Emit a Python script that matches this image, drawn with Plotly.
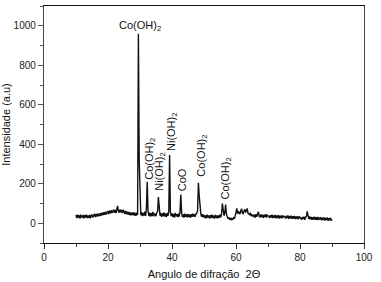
import numpy as np
import plotly.graph_objects as go

# 2-theta grid (degrees), 0.25 deg step from 10 to 90
theta_start = 10.0
theta_step = 0.25

intensity = [
    # 10.00 - 14.75
    42, 26, 44, 29, 40, 24, 43, 30, 27, 42, 25, 41, 29, 44, 26, 40, 28, 42, 25, 39,
    # 15.00 - 19.75
    44, 29, 41, 48, 31, 46, 34, 50, 35, 48, 37, 52, 39, 54, 41, 56, 43, 59, 45, 57,
    # 20.00 - 24.75
    62, 47, 64, 50, 66, 52, 63, 69, 53, 67, 51, 72, 88, 60, 54, 70, 56, 67, 52, 65,
    # 25.00 - 29.75
    61, 48, 63, 46, 59, 44, 57, 42, 55, 40, 53, 41, 56, 39, 52, 38, 54, 42, 960, 320,
    # 30.00 - 34.75
    66, 41, 56, 36, 52, 39, 59, 37, 72, 210, 64, 38, 54, 34, 51, 37, 57, 35, 50, 40,
    # 35.00 - 39.75
    36, 54, 60, 133, 59, 38, 52, 33, 49, 36, 55, 34, 48, 32, 53, 37, 62, 345, 56, 36,
    # 40.00 - 44.75
    50, 33, 47, 29, 52, 35, 46, 31, 48, 34, 57, 145, 54, 32, 45, 29, 49, 33, 44, 30,
    # 45.00 - 49.75
    47, 31, 43, 28, 46, 32, 48, 34, 45, 33, 49, 52, 64, 205, 140, 72, 49, 32, 46, 30,
    # 50.00 - 54.75
    42, 27, 40, 25, 44, 29, 39, 24, 41, 28, 43, 26, 38, 24, 42, 27, 40, 25, 39, 28,
    # 55.00 - 59.75
    44, 30, 50, 100, 57, 38, 52, 95, 47, 26, 23, 30, 18, 26, 16, 24, 20, 28, 23, 37,
    # 60.00 - 64.75
    50, 75, 48, 62, 51, 46, 64, 74, 52, 48, 62, 70, 54, 65, 75, 50, 48, 41, 54, 36,
    # 65.00 - 69.75
    42, 40, 31, 44, 29, 46, 33, 47, 58, 36, 30, 45, 32, 43, 28, 42, 31, 46, 29, 41,
    # 70.00 - 74.75
    38, 35, 27, 41, 29, 44, 26, 40, 28, 42, 25, 39, 27, 41, 24, 38, 26, 40, 25, 37,
    # 75.00 - 79.75
    35, 32, 24, 38, 26, 39, 23, 37, 25, 38, 22, 36, 24, 37, 21, 35, 23, 34, 20, 33,
    # 80.00 - 84.75
    30, 26, 19, 32, 21, 33, 18, 31, 35, 60, 38, 22, 34, 20, 32, 18, 31, 19, 33, 17,
    # 85.00 - 89.75
    30, 18, 32, 16, 29, 19, 31, 15, 28, 17, 30, 14, 27, 16, 29, 13, 26, 15, 28, 14,
    # 90.00
    20,
]
two_theta = np.round(theta_start + theta_step * np.arange(len(intensity)), 2)

# Peak labels: (text, x position in 2-theta, y position in a.u., angle)
label_texts = ["Co(OH)<sub>2</sub>", "Co(OH)<sub>2</sub>", "Ni(OH)<sub>2</sub>",
               "Ni(OH)<sub>2</sub>", "CoO", "Co(OH)<sub>2</sub>", "Co(OH)<sub>2</sub>"]
label_x = [30.0, 33.1, 36.4, 40.0, 43.4, 49.1, 56.9]
label_y = [1000, 326, 263, 462, 222, 343, 227]
label_angle = [0, -90, -90, -90, -90, -90, -90]

FONT = "Liberation Sans, Arial, sans-serif"

fig = go.Figure()
fig.add_trace(go.Scatter(
    x=two_theta, y=intensity, mode="lines",
    line=dict(color="#111111", width=1.4),
    showlegend=False, hoverinfo="skip",
))

for t, lx, ly, a in zip(label_texts, label_x, label_y, label_angle):
    fig.add_annotation(x=lx, y=ly, xref="x", yref="y", text=t, showarrow=False,
                       textangle=a, xanchor="center", yanchor="middle",
                       font=dict(family=FONT, size=11, color="#111111"))

fig.update_layout(
    width=381, height=282,
    margin=dict(l=44, r=17, t=6, b=39, autoexpand=False),
    paper_bgcolor="white", plot_bgcolor="white",
    font=dict(family=FONT, size=10, color="#222222"),
)
fig.update_xaxes(
    range=[0, 100], dtick=20, tick0=0, automargin=False,
    ticks="outside", ticklen=5, tickwidth=1, tickcolor="#333333",
    minor=dict(dtick=10, tick0=0, ticks="outside", ticklen=3, tickcolor="#333333"),
    showline=True, linecolor="#111111", linewidth=1.3, mirror=True,
    showgrid=False, zeroline=False,
    tickfont=dict(size=10, color="#222222"),
    title=dict(text="Angulo de difração  2Θ", font=dict(size=11, color="#111111"), standoff=8),
)
fig.update_yaxes(
    range=[-100, 1100], dtick=200, tick0=0, automargin=False,
    ticks="outside", ticklen=5, tickwidth=1, tickcolor="#555555",
    minor=dict(dtick=100, tick0=0, ticks="outside", ticklen=3, tickcolor="#555555"),
    showline=True, linecolor="#444444", linewidth=1.3, mirror=True,
    showgrid=False, zeroline=False,
    tickfont=dict(size=10, color="#222222"),
    title=dict(text="Intensidade (a.u)", font=dict(size=11, color="#111111"), standoff=2),
)

fig.write_html("out.html", config={"displayModeBar": False},
               post_script="document.body.style.margin='0';document.body.style.overflow='hidden';")
